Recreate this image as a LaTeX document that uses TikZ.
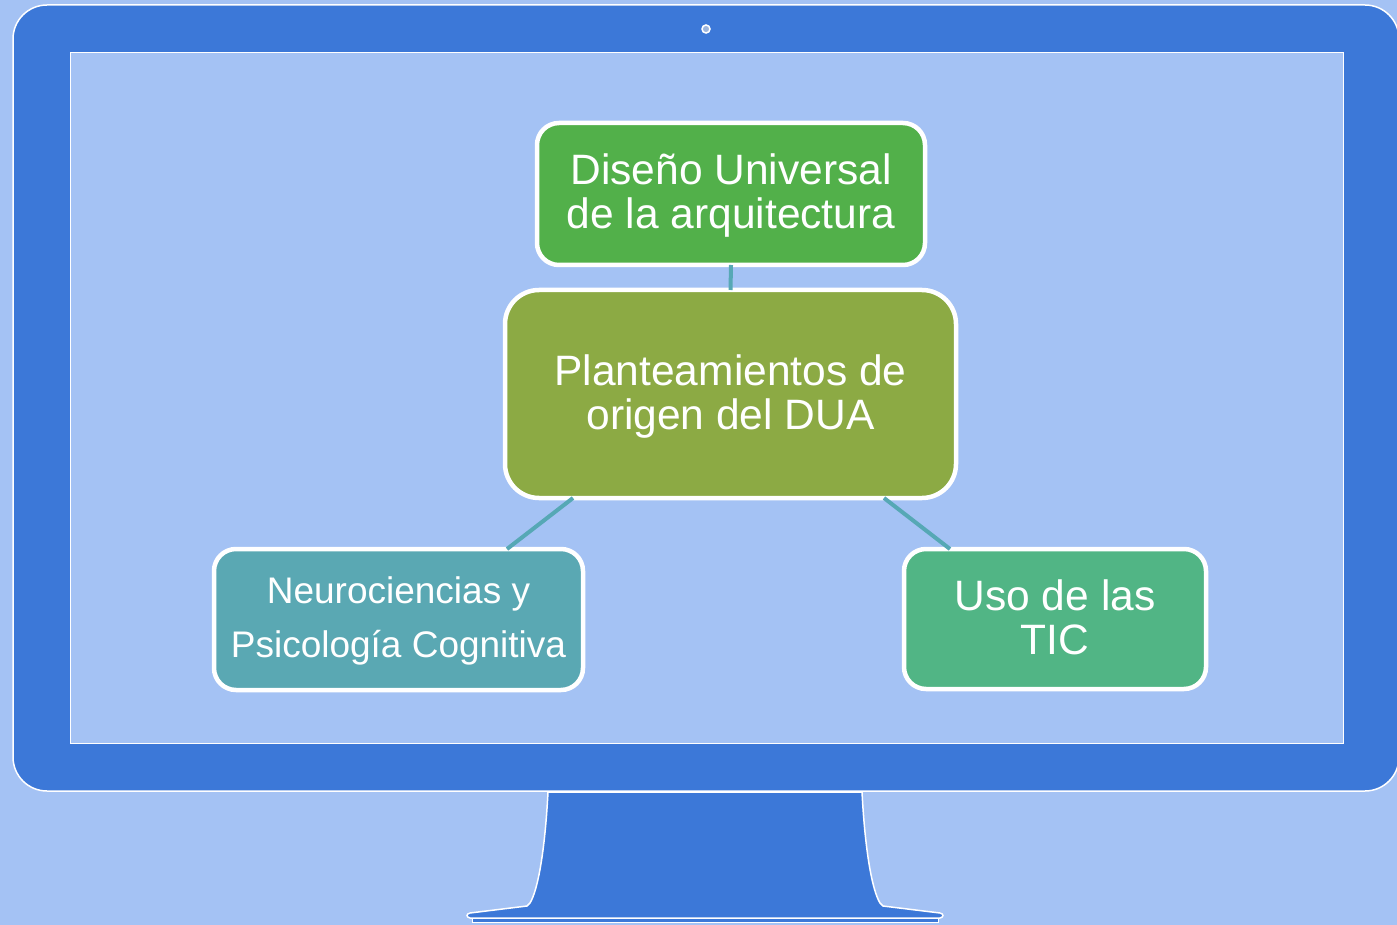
\documentclass[tikz,border=0pt]{standalone}
\usepackage{fontspec}
\setmainfont{Liberation Sans}
\usetikzlibrary{calc}
\definecolor{bg}{HTML}{A4C2F4}
\definecolor{mon}{HTML}{3C78D8}
\definecolor{cTop}{HTML}{52B04A}
\definecolor{cMid}{HTML}{8CAA44}
\definecolor{cLeft}{HTML}{5AA8B3}
\definecolor{cRight}{HTML}{51B585}
\definecolor{linkc}{HTML}{56A8B5}
\begin{document}
\begin{tikzpicture}[x=1pt,y=-1pt,
  boxnode/.style={draw=white, line width=4.5pt, rounded corners=#1, inner sep=0pt, outer sep=0pt},
  txt/.style={text=white, align=center, inner sep=0pt, anchor=base},
  bigfont/.style={font=\fontsize{42.5}{44}\selectfont},
  smallfont/.style={font=\fontsize{37}{54}\selectfont},
  link/.style={draw=linkc, line width=4pt},
  frame/.style={draw=white, line width=1.5pt}]
\useasboundingbox (0,0) rectangle (1397,925);
\fill[bg] (0,0) rectangle (1397,925);
% stand
\draw[frame, fill=mon] (548,792) .. controls (545,850) and (538,890) .. (530,903)
  -- (527,906) -- (470,913) .. controls (466,914) and (466,917) .. (470,918)
  -- (940,918) .. controls (944,917) and (944,914) .. (940,913)
  -- (883,906) -- (880,903) .. controls (872,890) and (865,850) .. (862,792) -- cycle;
\draw[draw=white, line width=1pt, fill=mon] (472,918) rectangle (938,922);
% monitor
\draw[frame, fill=mon, rounded corners=34pt] (13,5) rectangle (1399,791);
\draw[draw=white, line width=1pt, fill=bg] (70,53) rectangle (1343,743);
\draw[draw=white, line width=1.5pt, fill=bg!80!gray] (706,29) circle[radius=4pt];
% boxes
\node[boxnode=22pt, fill=cTop, minimum width=388pt, minimum height=142pt] (top) at (731,194) {};
\node[boxnode=34pt, fill=cMid, minimum width=451pt, minimum height=208pt] (mid) at (730.5,394) {};
\node[boxnode=22pt, fill=cLeft, minimum width=369pt, minimum height=141pt] (left) at (398.5,619.5) {};
\node[boxnode=22pt, fill=cRight, minimum width=302pt, minimum height=140pt] (right) at (1055,619) {};
% connectors
\draw[link] (top.south) -- (mid.north);
\draw[link] ($(mid.south)+(-157.5,0)$) -- ($(left.north)+(108.5,0)$);
\draw[link] ($(mid.south)+(153.5,0)$) -- ($(right.north)+(-105,0)$);
% texts
\node[txt, bigfont] (topT) at (731,229) {Diseño Universal\\de la arquitectura};
\node[txt, bigfont] (midT) at (730.5,429) {Planteamientos de\\origen del DUA};
\node[txt, smallfont] (leftT) at (398.5,657) {Neurociencias y\\Psicología Cognitiva};
\node[txt, bigfont] (rightT) at (1055,654) {Uso de las\\TIC};
\end{tikzpicture}
\end{document}
